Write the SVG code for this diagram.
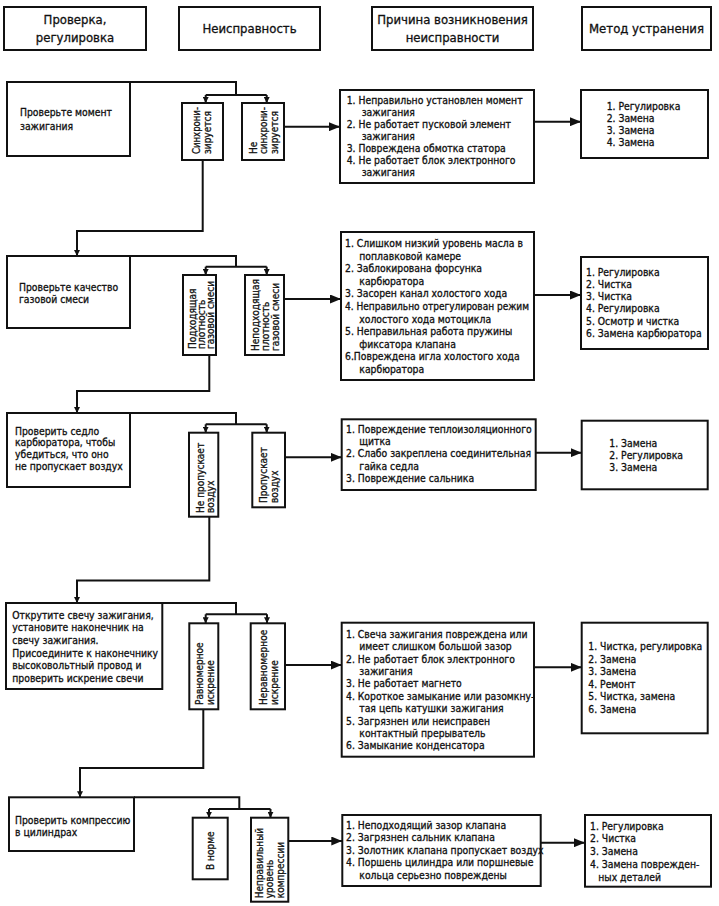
<svg xmlns="http://www.w3.org/2000/svg" width="719" height="906" viewBox="0 0 719 906">
<style>
.b{fill:#fff;stroke:#111;stroke-width:2}
.c{fill:none;stroke:#111;stroke-width:2}
text{font-family:"DejaVu Sans Condensed","DejaVu Sans",sans-serif;font-size:10.3px;fill:#111;stroke:#111;stroke-width:0.3}
.h{font-size:13px;text-anchor:middle}
.v{font-size:10px}
</style>
<defs>
<marker id="big" markerUnits="userSpaceOnUse" markerWidth="11" markerHeight="9" refX="11" refY="4.5" orient="auto"><path d="M0,0 L11,4.5 L0,9 z" fill="#111"/></marker>
<marker id="sm" markerUnits="userSpaceOnUse" markerWidth="6" markerHeight="6" refX="6" refY="3" orient="auto"><path d="M0,0 L6,3 L0,6 z" fill="#111"/></marker>
</defs>

<g id="header">
<g id="h1"><rect class="b" x="4" y="7" width="142" height="43"/><text class="h"><tspan x="75" y="24">Проверка,</tspan><tspan x="75" y="42">регулировка</tspan></text></g>
<g id="h2"><rect class="b" x="179" y="7" width="141" height="43"/><text class="h" x="249.5" y="33">Неисправность</text></g>
<g id="h3"><rect class="b" x="372" y="7" width="161" height="43"/><text class="h"><tspan x="452.5" y="24">Причина возникновения</tspan><tspan x="452.5" y="42">неисправности</tspan></text></g>
<g id="h4"><rect class="b" x="582" y="7" width="129" height="43"/><text class="h" x="646.5" y="33">Метод устранения</text></g>
</g>

<g id="connectors">
<path class="c" d="M130,82 H236 V95 M205.7,95 H266.7"/>
<path class="c" d="M205.7,95 V103" marker-end="url(#sm)"/>
<path class="c" d="M266.7,95 V103" marker-end="url(#sm)"/>
<path class="c" d="M284,126.7 H340" marker-end="url(#big)"/>
<path class="c" d="M534,121.7 H581" marker-end="url(#big)"/>
<path class="c" d="M202.7,160 V231 H77 V256" marker-end="url(#sm)"/>

<path class="c" d="M130,256 H236 V266.7 M205.7,266.7 H266.7"/>
<path class="c" d="M205.7,266.7 V275" marker-end="url(#sm)"/>
<path class="c" d="M266.7,266.7 V275" marker-end="url(#sm)"/>
<path class="c" d="M284,299 H341" marker-end="url(#big)"/>
<path class="c" d="M534,295 H581" marker-end="url(#big)"/>
<path class="c" d="M209.3,355 V391 H77 V413" marker-end="url(#sm)"/>

<path class="c" d="M130,413 H236 V424.3 M205.7,424.3 H266.7"/>
<path class="c" d="M205.7,424.3 V432.7" marker-end="url(#sm)"/>
<path class="c" d="M266.7,424.3 V432.7" marker-end="url(#sm)"/>
<path class="c" d="M285,457.3 H341.7" marker-end="url(#big)"/>
<path class="c" d="M535.7,452.7 H581.7" marker-end="url(#big)"/>
<path class="c" d="M209.3,516.7 V580.5 H77 V603" marker-end="url(#sm)"/>

<path class="c" d="M162.3,603 H236 V614.3 M205.7,614.3 H267"/>
<path class="c" d="M205.7,614.3 V623.3" marker-end="url(#sm)"/>
<path class="c" d="M267,614.3 V623.3" marker-end="url(#sm)"/>
<path class="c" d="M285,665 H341.7" marker-end="url(#big)"/>
<path class="c" d="M534,667.3 H581.7" marker-end="url(#big)"/>
<path class="c" d="M203.3,709.3 V768 H80 V797.3" marker-end="url(#sm)"/>

<path class="c" d="M134,797.3 H239.3 V809 M209,809 H270.5"/>
<path class="c" d="M209,809 V817.7" marker-end="url(#sm)"/>
<path class="c" d="M270.5,809 V817.7" marker-end="url(#sm)"/>
<path class="c" d="M288.3,841 H342.3" marker-end="url(#big)"/>
<path class="c" d="M540.7,842.7 H585" marker-end="url(#big)"/>
</g>

<!-- Section 1 -->
<g id="check1"><rect class="b" x="7" y="82" width="123" height="74"/><text><tspan x="20" y="116">Проверьте момент</tspan><tspan x="20" y="130">зажигания</tspan></text></g>
<g id="fault1a"><rect class="b" x="182" y="103" width="41" height="57"/>
<text class="v" transform="translate(200.2,154) rotate(-90)" textLength="47" lengthAdjust="spacingAndGlyphs">Синхрони-</text>
<text class="v" transform="translate(210.8,154) rotate(-90)">зируется</text></g>
<g id="fault1b"><rect class="b" x="242" y="103" width="42" height="57"/>
<text class="v" transform="translate(256.8,154) rotate(-90)">Не</text>
<text class="v" transform="translate(266.8,154) rotate(-90)" textLength="47" lengthAdjust="spacingAndGlyphs">синхрони-</text>
<text class="v" transform="translate(277.5,154) rotate(-90)">зируется</text></g>
<g id="cause1"><rect class="b" x="340" y="90" width="194" height="93"/>
<text><tspan x="346.7" y="104">1. Неправильно установлен момент</tspan><tspan x="361.7" y="116">зажигания</tspan><tspan x="346.7" y="128">2. Не работает пусковой элемент</tspan><tspan x="361.7" y="140">зажигания</tspan><tspan x="346.7" y="152">3. Повреждена обмотка статора</tspan><tspan x="346.7" y="164">4. Не работает блок электронного</tspan><tspan x="361.7" y="176">зажигания</tspan></text></g>
<g id="method1"><rect class="b" x="581" y="90" width="127" height="68"/>
<text><tspan x="606.7" y="109.5">1. Регулировка</tspan><tspan x="606.7" y="121.5">2. Замена</tspan><tspan x="606.7" y="133.5">3. Замена</tspan><tspan x="606.7" y="145.5">4. Замена</tspan></text></g>

<!-- Section 2 -->
<g id="check2"><rect class="b" x="7" y="256" width="123" height="72"/><text><tspan x="19" y="290.5">Проверьте качество</tspan><tspan x="19" y="302.5">газовой смеси</tspan></text></g>
<g id="fault2a"><rect class="b" x="183" y="275" width="33" height="80"/>
<text class="v" transform="translate(195.5,349) rotate(-90)">Подходящая</text>
<text class="v" transform="translate(205,349) rotate(-90)">плотность</text>
<text class="v" transform="translate(214.3,349) rotate(-90)">газовой смеси</text></g>
<g id="fault2b"><rect class="b" x="245" y="275" width="39" height="80"/>
<text class="v" transform="translate(258.5,351) rotate(-90)" textLength="72" lengthAdjust="spacingAndGlyphs">Неподходящая</text>
<text class="v" transform="translate(268.5,351) rotate(-90)">плотность</text>
<text class="v" transform="translate(279,351) rotate(-90)">газовой смеси</text></g>
<g id="cause2"><rect class="b" x="341" y="232" width="193" height="148"/>
<text><tspan x="345" y="247">1. Слишком низкий уровень масла в</tspan><tspan x="359.3" y="259.6">поплавковой камере</tspan><tspan x="345" y="272.2">2. Заблокирована форсунка</tspan><tspan x="359.3" y="284.8">карбюратора</tspan><tspan x="345" y="297.4">3. Засорен канал холостого хода</tspan></text>
<text x="345" y="310" textLength="184" lengthAdjust="spacingAndGlyphs">4. Неправильно отрегулирован режим</text>
<text><tspan x="359.3" y="322.6">холостого хода мотоцикла</tspan><tspan x="345" y="335.2">5. Неправильная работа пружины</tspan><tspan x="359.3" y="347.8">фиксатора клапана</tspan><tspan x="345" y="360.4">6.Повреждена игла холостого хода</tspan><tspan x="359.3" y="373">карбюратора</tspan></text></g>
<g id="method2"><rect class="b" x="581" y="257" width="127" height="92"/>
<text><tspan x="586" y="275.5">1. Регулировка</tspan><tspan x="586" y="287.8">2. Чистка</tspan><tspan x="586" y="300.1">3. Чистка</tspan><tspan x="586" y="312.4">4. Регулировка</tspan><tspan x="586" y="324.7">5. Осмотр и чистка</tspan><tspan x="586" y="337">6. Замена карбюратора</tspan></text></g>

<!-- Section 3 -->
<g id="check3"><rect class="b" x="7" y="413" width="123" height="74"/><text><tspan x="15" y="434.5">Проверить седло</tspan><tspan x="15" y="446.3">карбюратора, чтобы</tspan><tspan x="15" y="458.1">убедиться, что оно</tspan><tspan x="15" y="469.9">не пропускает воздух</tspan></text></g>
<g id="fault3a"><rect class="b" x="189" y="432.7" width="29.3" height="84"/>
<text class="v" transform="translate(203.5,513) rotate(-90)">Не пропускает</text>
<text class="v" transform="translate(214.2,513) rotate(-90)">воздух</text></g>
<g id="fault3b"><rect class="b" x="252.3" y="432.7" width="32.7" height="74.6"/>
<text class="v" transform="translate(266.8,503) rotate(-90)">Пропускает</text>
<text class="v" transform="translate(277.5,503) rotate(-90)">воздух</text></g>
<g id="cause3"><rect class="b" x="341.7" y="419.3" width="194" height="70.7"/>
<text><tspan x="346" y="433">1. Повреждение теплоизоляционного</tspan><tspan x="359.3" y="445.2">щитка</tspan><tspan x="346" y="457.4">2. Слабо закреплена соединительная</tspan><tspan x="359.3" y="469.6">гайка седла</tspan><tspan x="346" y="481.8">3. Повреждение сальника</tspan></text></g>
<g id="method3"><rect class="b" x="581.7" y="420.7" width="126" height="68.6"/>
<text><tspan x="609.3" y="446.5">1. Замена</tspan><tspan x="609.3" y="458.8">2. Регулировка</tspan><tspan x="609.3" y="471.1">3. Замена</tspan></text></g>

<!-- Section 4 -->
<g id="check4"><rect class="b" x="6" y="603" width="156.3" height="86"/><text><tspan x="12.3" y="618.7">Открутите свечу зажигания,</tspan><tspan x="12.3" y="631.3">установите наконечник на</tspan><tspan x="12.3" y="643.9">свечу зажигания.</tspan><tspan x="12.3" y="656.5">Присоедините к наконечнику</tspan><tspan x="12.3" y="669.1">высоковольтный провод и</tspan><tspan x="12.3" y="681.7">проверить искрение свечи</tspan></text></g>
<g id="fault4a"><rect class="b" x="189.3" y="623.3" width="29" height="86"/>
<text class="v" transform="translate(202.8,705) rotate(-90)">Равномерное</text>
<text class="v" transform="translate(213.5,705) rotate(-90)">искрение</text></g>
<g id="fault4b"><rect class="b" x="250.7" y="623.3" width="34.3" height="86"/>
<text class="v" transform="translate(266.8,705) rotate(-90)">Неравномерное</text>
<text class="v" transform="translate(277.5,705) rotate(-90)">искрение</text></g>
<g id="cause4"><rect class="b" x="341.7" y="622.7" width="192.3" height="134"/>
<text><tspan x="346" y="637.7">1. Свеча зажигания повреждена или</tspan><tspan x="359.3" y="650.1">имеет слишком большой зазор</tspan><tspan x="346" y="662.5">2. Не работает блок электронного</tspan><tspan x="359.3" y="674.9">зажигания</tspan><tspan x="346" y="687.3">3. Не работает магнето</tspan><tspan x="346" y="699.7">4. Короткое замыкание или разомкну-</tspan><tspan x="359.3" y="712.1">тая цепь катушки зажигания</tspan><tspan x="346" y="724.5">5. Загрязнен или неисправен</tspan><tspan x="359.3" y="736.9">контактный прерыватель</tspan><tspan x="346" y="749.3">6. Замыкание конденсатора</tspan></text></g>
<g id="method4"><rect class="b" x="581.7" y="622.7" width="126" height="110.6"/>
<text><tspan x="588.3" y="650.4">1. Чистка, регулировка</tspan><tspan x="588.3" y="662.9">2. Замена</tspan><tspan x="588.3" y="675.4">3. Замена</tspan><tspan x="588.3" y="687.9">4. Ремонт</tspan><tspan x="588.3" y="700.4">5. Чистка, замена</tspan><tspan x="588.3" y="712.9">6. Замена</tspan></text></g>

<!-- Section 5 -->
<g id="check5"><rect class="b" x="9" y="797.3" width="125" height="53.7"/><text><tspan x="15" y="823.7">Проверить компрессию</tspan><tspan x="15" y="835.7">в цилиндрах</tspan></text></g>
<g id="fault5a"><rect class="b" x="192.7" y="817.7" width="35" height="61.6"/>
<text class="v" transform="translate(213.5,870) rotate(-90)">В норме</text></g>
<g id="fault5b"><rect class="b" x="251" y="817.7" width="37.3" height="84"/>
<text class="v" transform="translate(262.8,898.3) rotate(-90)">Неправильный</text>
<text class="v" transform="translate(272.8,898.3) rotate(-90)">уровень</text>
<text class="v" transform="translate(283.5,898.3) rotate(-90)">компрессии</text></g>
<g id="cause5"><rect class="b" x="342.3" y="815" width="198.4" height="71"/>
<text><tspan x="346" y="828.7">1. Неподходящий зазор клапана</tspan><tspan x="346" y="841.2">2. Загрязнен сальник клапана</tspan><tspan x="346" y="853.7">3. Золотник клапана пропускает воздух</tspan><tspan x="346" y="866.2">4. Поршень цилиндра или поршневые</tspan><tspan x="359.3" y="878.7">кольца серьезно повреждены</tspan></text></g>
<g id="method5"><rect class="b" x="585" y="815" width="126" height="71.7"/>
<text><tspan x="590" y="829.7">1. Регулировка</tspan><tspan x="590" y="842.4">2. Чистка</tspan><tspan x="590" y="855.1">3. Замена</tspan><tspan x="590" y="867.8">4. Замена поврежден-</tspan><tspan x="598.3" y="880.5">ных деталей</tspan></text></g>
</svg>
